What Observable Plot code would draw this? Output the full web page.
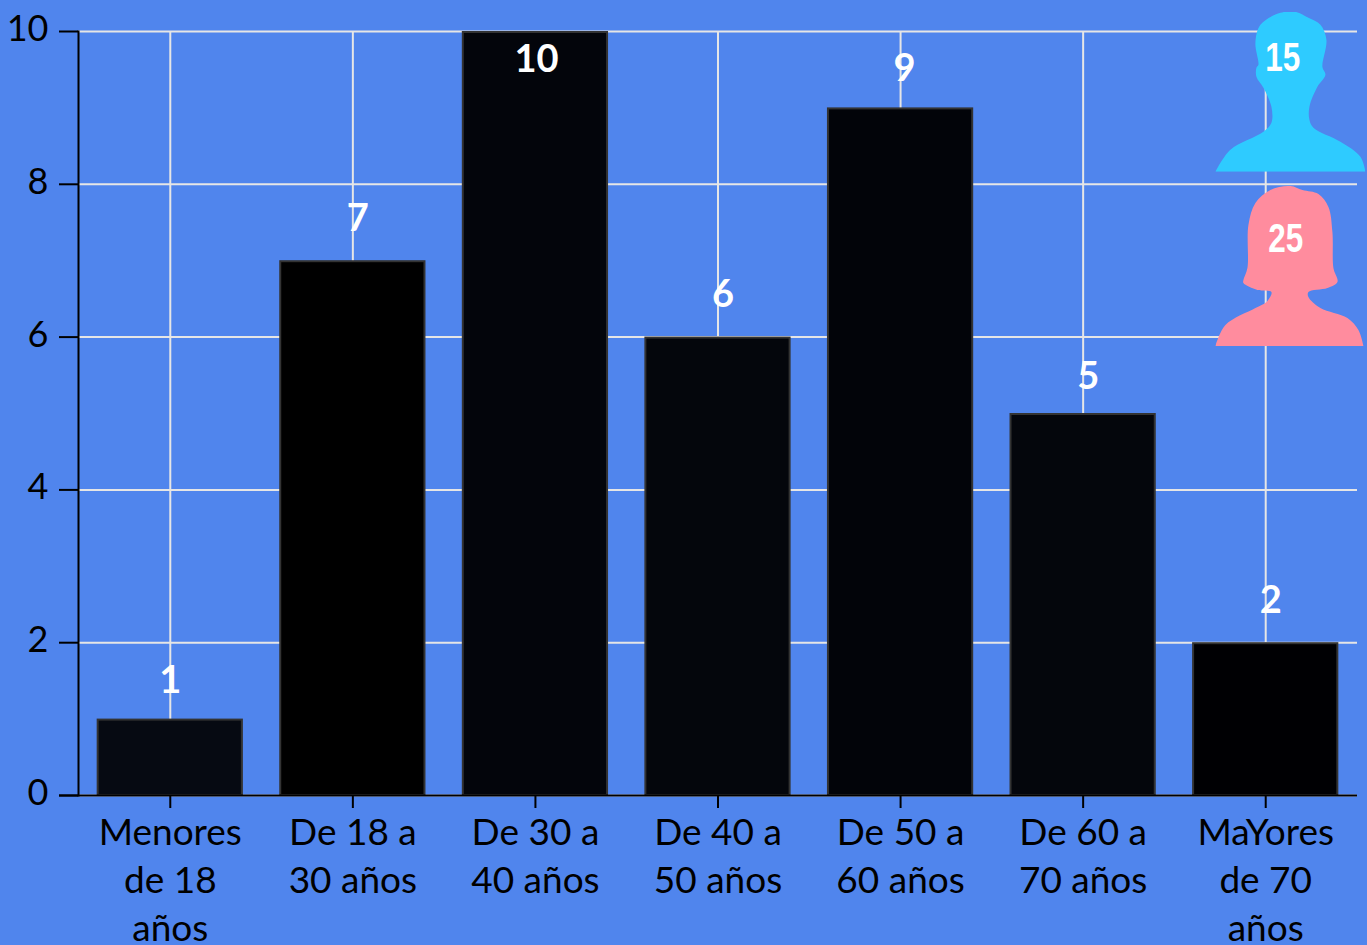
<!DOCTYPE html>
<html>
<head>
<meta charset="utf-8">
<script src="https://cdn.jsdelivr.net/npm/d3@7"></script>
<script src="https://cdn.jsdelivr.net/npm/@observablehq/plot@0.6"></script>
<style>
html,body{margin:0;padding:0;background:#5085ed;overflow:hidden}
svg{display:block}
</style>
</head>
<body>
<div id="chart"></div>
<script>
const categories = ["Menores\nde 18\naños","De 18 a\n30 años","De 30 a\n40 años","De 40 a\n50 años","De 50 a\n60 años","De 60 a\n70 años","MaYores\nde 70\naños"];
const values = [1,7,10,6,9,5,2];
const barColors = ["#060a12","#000000","#03050b","#04060c","#020409","#04060c","#000003"];
const yTicks = [0,2,4,6,8,10];
const genderLabels = ["15","25"];
const genderColors = ["#2ecbff","#ff8c9e"];

const malePts = [[0,160],[15,138],[48,120],[56,111],[56,95],[48,76],[41,65],[41,56],[43,53],[40,31],[45,13],[65,1],[80,0],[93,6],[105,13],[111,28],[107,55],[110,63],[102,75],[94,95],[94,108],[98,116],[125,130],[145,145],[150,160]];
const femalePts = [[0,160],[10,139],[40,122],[51,116],[56,106],[42,104],[28,97],[28,94],[32,82],[33,39],[40,17],[55,4],[75,0],[87,4],[103,8],[113,21],[117,46],[118,82],[122,96],[112,102],[93,106],[93,111],[105,122],[132,132],[143,144],[148,160]];
const outline = d3.line().curve(d3.curveCatmullRom.alpha(0.5));
const icon = (pts,color) => "data:image/svg+xml," + encodeURIComponent(
  `<svg xmlns="http://www.w3.org/2000/svg" viewBox="0 0 150 160" width="150" height="160"><path d="${outline(pts)}Z" fill="${color}"/></svg>`);
const genders = [
  {label:genderLabels[0], y:9.21, textY:9.65, dx:17, src:icon(malePts,genderColors[0])},
  {label:genderLabels[1], y:6.93, textY:7.28, dx:20, src:icon(femalePts,genderColors[1])}
];

const table = categories.map((c,i)=>({c, v:values[i], fill:barColors[i]}));
const last = categories[categories.length-1];
const font = "Lato, 'Open Sans', sans-serif";
// small per-label offsets from each bar top
const nudgeX = [0,5,1,5,4,5,5];
const nudgeY = [-38,-42,28,-42,-39,-37,-42];

const chart = Plot.plot({
  width:1367, height:945,
  marginLeft:78, marginRight:10, marginTop:31, marginBottom:150,
  style:{background:"transparent", fontFamily:font, color:"#000", overflow:"hidden"},
  x:{domain:categories, range:[78.5,1356.5], round:false, paddingInner:0.21, paddingOuter:0.105, axis:null},
  y:{domain:[0,10], axis:null},
  marks:[
    Plot.gridY(yTicks,{stroke:"#e6e6e6", strokeOpacity:1, strokeWidth:2}),
    Plot.gridX(categories,{stroke:"#e6e6e6", strokeOpacity:1, strokeWidth:2}),
    Plot.barY(table,{x:"c", y:"v", fill:"fill", stroke:"#333333", strokeWidth:2, insetTop:1}),
    Plot.ruleY([0],{stroke:"#000", strokeWidth:2, insetLeft:-19}),
    Plot.frame({anchor:"left", stroke:"#000", strokeWidth:2}),
    Plot.axisY({ticks:yTicks, tickSize:19, stroke:"#000", strokeWidth:2, label:null, tickFormat:()=>""}),
    Plot.axisY({ticks:yTicks, tickSize:0, tickPadding:30, dy:-2, fontSize:36, label:null, tickFormat:d=>d}),
    Plot.axisX({tickSize:13, tickPadding:2, fontSize:37, lineHeight:1.3, stroke:"#000", strokeWidth:2, label:null, anchor:"bottom", fill:"#000"}),
    ...table.map((d,i)=>Plot.text([d],{x:"c", y:"v", text:e=>String(e.v), fill:"#fff", fontSize:38, fontWeight:700, dx:nudgeX[i], dy:nudgeY[i]})),
    Plot.image(genders,{x:()=>last, y:"y", src:"src", width:150, height:160, dx:24.7, preserveAspectRatio:"none"}),
    ...genders.map(g=>Plot.text([g],{x:()=>last, y:"textY", text:"label", fill:"#fff", fontSize:40, fontWeight:700, fontFamily:"'Liberation Sans',sans-serif", dx:g.dx, className:"gender-count"}))
  ]
});
chart.querySelectorAll(".gender-count text").forEach(t=>{
  t.setAttribute("textLength","35");
  t.setAttribute("lengthAdjust","spacingAndGlyphs");
});
document.getElementById("chart").append(chart);
</script>
</body>
</html>
